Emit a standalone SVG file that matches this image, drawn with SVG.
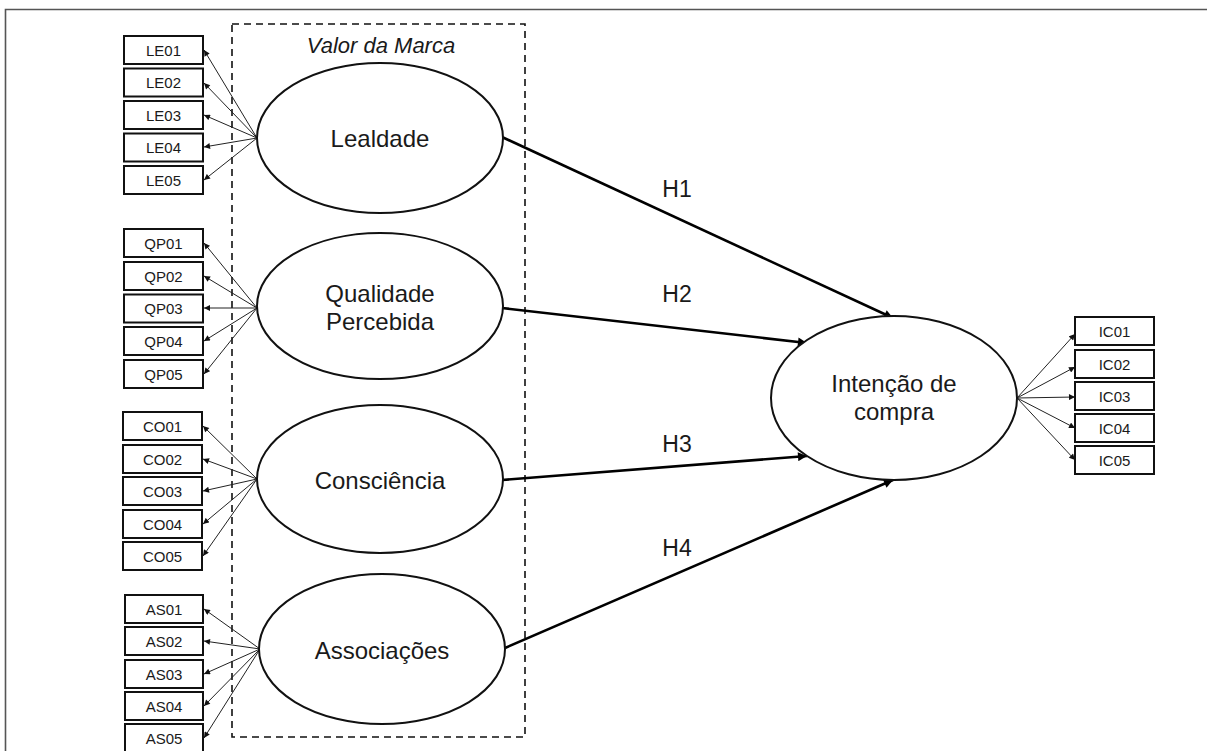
<svg xmlns="http://www.w3.org/2000/svg" width="1207" height="751" viewBox="0 0 1207 751">
<style>
text{font-family:"Liberation Sans",Arial,sans-serif;fill:#1a1a1a}
.box{fill:#fff;stroke:#111;stroke-width:2}
.bt{font-size:15px;text-anchor:middle}
.ell{fill:#fff;stroke:#111;stroke-width:2}
.et{font-size:24px;text-anchor:middle}
.thin{stroke:#222;stroke-width:1;fill:none;marker-end:url(#ah)}
.thick{stroke:#000;stroke-width:2.6;fill:none;marker-end:url(#ahb)}
.ht{font-size:23px;text-anchor:middle}
</style>
<defs>
<marker id="ah" viewBox="0 0 10 10" refX="10" refY="5" markerWidth="7" markerHeight="6" markerUnits="userSpaceOnUse" orient="auto"><path d="M0,0L10,5L0,10z" fill="#111"/></marker>
<marker id="ahb" viewBox="0 0 10 10" refX="10" refY="5" markerWidth="11" markerHeight="9" markerUnits="userSpaceOnUse" orient="auto"><path d="M0,0L10,5L0,10z" fill="#000"/></marker>
</defs>
<rect width="1207" height="751" fill="#fff"/>
<path d="M5.5,751V9.5H1207" fill="none" stroke="#555" stroke-width="1.6"/>
<g id="valor-da-marca">
<rect x="232" y="24" width="293" height="713" fill="none" stroke="#111" stroke-width="1.6" stroke-dasharray="7,5"/>
<text x="381" y="53" font-size="22" font-style="italic" text-anchor="middle">Valor da Marca</text>
</g>
<g id="connectors">
<line class="thin" x1="257" y1="138" x2="204" y2="50"/>
<line class="thin" x1="257" y1="138" x2="204" y2="83"/>
<line class="thin" x1="257" y1="138" x2="204" y2="115"/>
<line class="thin" x1="257" y1="138" x2="204" y2="147"/>
<line class="thin" x1="257" y1="138" x2="204" y2="180"/>
<line class="thin" x1="257" y1="308" x2="204" y2="243"/>
<line class="thin" x1="257" y1="308" x2="204" y2="276"/>
<line class="thin" x1="257" y1="308" x2="204" y2="308"/>
<line class="thin" x1="257" y1="308" x2="204" y2="341"/>
<line class="thin" x1="257" y1="308" x2="204" y2="374"/>
<line class="thin" x1="257" y1="479" x2="203" y2="426"/>
<line class="thin" x1="257" y1="479" x2="203" y2="459"/>
<line class="thin" x1="257" y1="479" x2="203" y2="491"/>
<line class="thin" x1="257" y1="479" x2="203" y2="524"/>
<line class="thin" x1="257" y1="479" x2="203" y2="556"/>
<line class="thin" x1="260" y1="649" x2="204" y2="609"/>
<line class="thin" x1="260" y1="649" x2="204" y2="641"/>
<line class="thin" x1="260" y1="649" x2="204" y2="674"/>
<line class="thin" x1="260" y1="649" x2="204" y2="706"/>
<line class="thin" x1="260" y1="649" x2="204" y2="738"/>
<line class="thin" x1="1017" y1="398" x2="1075" y2="334"/>
<line class="thin" x1="1017" y1="398" x2="1075" y2="367"/>
<line class="thin" x1="1017" y1="398" x2="1075" y2="397"/>
<line class="thin" x1="1017" y1="398" x2="1075" y2="428"/>
<line class="thin" x1="1017" y1="398" x2="1075" y2="460"/>
<line class="thick" x1="502" y1="137" x2="893" y2="318"/>
<line class="thick" x1="502" y1="308" x2="807" y2="343"/>
<line class="thick" x1="502" y1="480" x2="807" y2="456"/>
<line class="thick" x1="505" y1="648" x2="893" y2="480"/>
<text class="ht" x="677" y="197">H1</text>
<text class="ht" x="677" y="302">H2</text>
<text class="ht" x="677" y="452">H3</text>
<text class="ht" x="677" y="556">H4</text>
</g>
<g id="lealdade"><ellipse class="ell" cx="380" cy="138" rx="123" ry="75"/><text class="et" x="380" y="147">Lealdade</text></g>
<g id="qualidade"><ellipse class="ell" cx="380" cy="306" rx="123" ry="73"/><text class="et" x="380" y="302">Qualidade</text><text class="et" x="380" y="330">Percebida</text></g>
<g id="consciencia"><ellipse class="ell" cx="380" cy="479" rx="123" ry="74"/><text class="et" x="380" y="489">Consciência</text></g>
<g id="associacoes"><ellipse class="ell" cx="382" cy="649" rx="123" ry="75"/><text class="et" x="382" y="659">Associações</text></g>
<g id="intencao"><ellipse class="ell" cx="894" cy="398" rx="123" ry="82"/><text class="et" x="894" y="392">Intenção de</text><text class="et" x="894" y="420">compra</text></g>
<g id="le-items">
<rect class="box" x="124" y="36" width="79" height="28"/><text class="bt" x="163.5" y="55.5">LE01</text>
<rect class="box" x="124" y="68.5" width="79" height="28"/><text class="bt" x="163.5" y="88">LE02</text>
<rect class="box" x="124" y="101" width="79" height="28"/><text class="bt" x="163.5" y="120.5">LE03</text>
<rect class="box" x="124" y="133.5" width="79" height="28"/><text class="bt" x="163.5" y="153">LE04</text>
<rect class="box" x="124" y="166" width="79" height="28"/><text class="bt" x="163.5" y="185.5">LE05</text>
</g>
<g id="qp-items">
<rect class="box" x="124" y="229" width="79" height="28"/><text class="bt" x="163.5" y="248.5">QP01</text>
<rect class="box" x="124" y="262" width="79" height="28"/><text class="bt" x="163.5" y="281.5">QP02</text>
<rect class="box" x="124" y="294.5" width="79" height="28"/><text class="bt" x="163.5" y="314">QP03</text>
<rect class="box" x="124" y="327" width="79" height="28"/><text class="bt" x="163.5" y="346.5">QP04</text>
<rect class="box" x="124" y="360" width="79" height="28"/><text class="bt" x="163.5" y="379.5">QP05</text>
</g>
<g id="co-items">
<rect class="box" x="123" y="412" width="79" height="28"/><text class="bt" x="162.5" y="431.5">CO01</text>
<rect class="box" x="123" y="445" width="79" height="28"/><text class="bt" x="162.5" y="464.5">CO02</text>
<rect class="box" x="123" y="477" width="79" height="28"/><text class="bt" x="162.5" y="496.5">CO03</text>
<rect class="box" x="123" y="510" width="79" height="28"/><text class="bt" x="162.5" y="529.5">CO04</text>
<rect class="box" x="123" y="542" width="79" height="28"/><text class="bt" x="162.5" y="561.5">CO05</text>
</g>
<g id="as-items">
<rect class="box" x="125" y="595" width="78" height="28"/><text class="bt" x="164" y="614.5">AS01</text>
<rect class="box" x="125" y="627" width="78" height="28"/><text class="bt" x="164" y="646.5">AS02</text>
<rect class="box" x="125" y="660" width="78" height="28"/><text class="bt" x="164" y="679.5">AS03</text>
<rect class="box" x="125" y="692" width="78" height="28"/><text class="bt" x="164" y="711.5">AS04</text>
<rect class="box" x="125" y="724" width="78" height="28"/><text class="bt" x="164" y="743.5">AS05</text>
</g>
<g id="ic-items">
<rect class="box" x="1075" y="317" width="79" height="28"/><text class="bt" x="1114.5" y="336.5">IC01</text>
<rect class="box" x="1075" y="350" width="79" height="28"/><text class="bt" x="1114.5" y="369.5">IC02</text>
<rect class="box" x="1075" y="382" width="79" height="28"/><text class="bt" x="1114.5" y="401.5">IC03</text>
<rect class="box" x="1075" y="414" width="79" height="28"/><text class="bt" x="1114.5" y="433.5">IC04</text>
<rect class="box" x="1075" y="446" width="79" height="28"/><text class="bt" x="1114.5" y="465.5">IC05</text>
</g>
</svg>
